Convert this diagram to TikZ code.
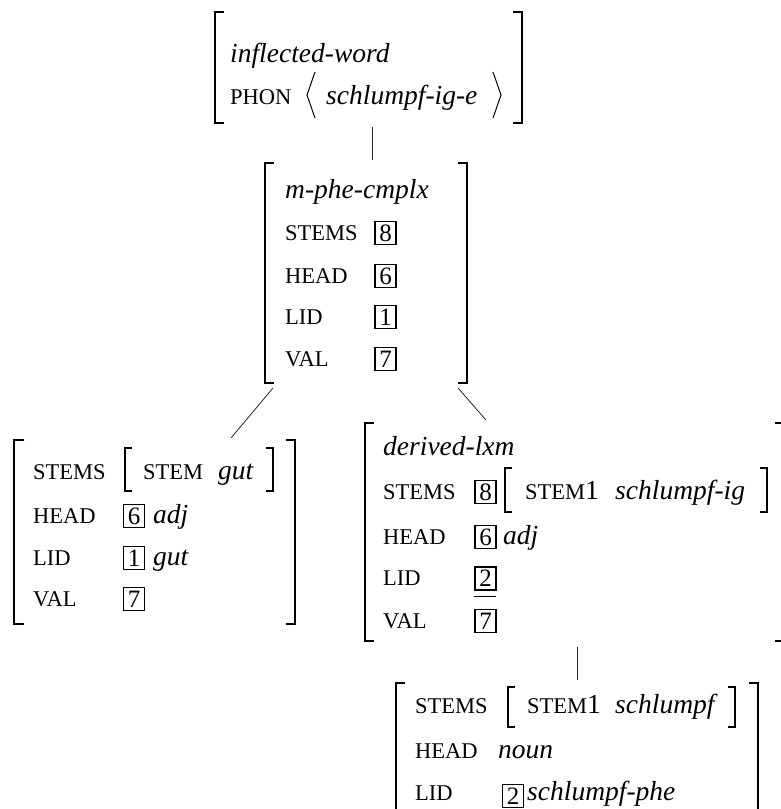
\documentclass[tikz,border=0pt]{standalone}
\usepackage{fontspec}
\setmainfont{Liberation Serif}
\newcommand\mfs{\fontsize{27.5}{31}\selectfont}
\newcommand\mtfs{\fontsize{25}{27}\selectfont}
\newcommand\fsc[1]{{\fontsize{22.5}{26}\selectfont #1}}
\tikzset{
  lbl/.style={anchor=base west, inner sep=0pt, font=\mfs},
  tagbox/.style={draw, line width=1.1pt, inner sep=0pt, minimum width=21pt, minimum height=23pt, font=\mtfs},
  brk/.style={line width=2pt},
  ibrk/.style={line width=1.6pt},
  conn/.style={line width=0.8pt, draw=black!85},
  angl/.style={line width=1pt}
}
\begin{document}
\begin{tikzpicture}[x=1pt,y=-1pt]
\useasboundingbox (0,0) rectangle (781,809);
\clip (0,0) rectangle (781,809);
% ---------- top AVM ----------
\draw[brk] (224,12) -- (215,12) -- (215,123) -- (224,123);
\draw[brk] (513,12) -- (522,12) -- (522,123) -- (513,123);
\node[lbl] (iw) at (230,62) {\itshape inflected-word};
\node[lbl] (phon) at (230,104) {\fsc{PHON}};
\draw[angl] (315,72) -- (307,95) -- (315,118);
\node[lbl] (phv) at (326,104) {\itshape schlumpf-ig-e};
\draw[angl] (493,72) -- (501,95) -- (493,118);
% ---------- middle AVM ----------
\draw[brk] (274,163) -- (265,163) -- (265,383) -- (274,383);
\draw[brk] (458,163) -- (467,163) -- (467,383) -- (458,383);
\node[lbl] (mty) at (285,198) {\itshape m-phe-cmplx};
\node[lbl] (mst) at (285,240) {\fsc{STEMS}};
\node[lbl] (mhd) at (285,283) {\fsc{HEAD}};
\node[lbl] (mld) at (285,324) {\fsc{LID}};
\node[lbl] (mvl) at (285,366) {\fsc{VAL}};
\node[tagbox] (mt8) at (385.5,233) {8};
\node[tagbox] (mt6) at (385.5,276) {6};
\node[tagbox] (mt1) at (385.5,317) {1};
\node[tagbox] (mt7) at (385.5,359) {7};
% ---------- left AVM ----------
\draw[brk] (24,440) -- (14,440) -- (14,624) -- (24,624);
\draw[brk] (286,440) -- (295,440) -- (295,624) -- (286,624);
\node[lbl] (lst) at (33,479) {\fsc{STEMS}};
\draw[ibrk] (132,448) -- (125,448) -- (125,491) -- (132,491);
\node[lbl] (lstem) at (143,479) {\fsc{STEM}};
\node[lbl] (lgut) at (218,479) {\itshape gut};
\draw[ibrk] (266,448) -- (273,448) -- (273,491) -- (266,491);
\node[lbl] (lhd) at (33,523) {\fsc{HEAD}};
\node[tagbox] (lt6) at (134,516) {6};
\node[lbl] (ladj) at (153,523) {\itshape adj};
\node[lbl] (lld) at (33,565) {\fsc{LID}};
\node[tagbox] (lt1) at (134,558) {1};
\node[lbl] (lgut2) at (153,565) {\itshape gut};
\node[lbl] (lvl) at (33,606) {\fsc{VAL}};
\node[tagbox] (lt7) at (134,599) {7};
% ---------- right AVM ----------
\draw[brk] (374,423) -- (365,423) -- (365,641) -- (374,641);
\draw[brk] (775,423) -- (784,423) -- (784,641) -- (775,641);
\node[lbl] (rty) at (383,455) {\itshape derived-lxm};
\node[lbl] (rst) at (383,499) {\fsc{STEMS}};
\node[tagbox] (rt8) at (485.5,492) {8};
\draw[ibrk] (512,468) -- (505,468) -- (505,512) -- (512,512);
\node[lbl] (rstem) at (525,499) {\fsc{STEM}1};
\node[lbl] (rsig) at (615,499) {\itshape schlumpf-ig};
\draw[ibrk] (760,468) -- (767,468) -- (767,512) -- (760,512);
\node[lbl] (rhd) at (383,544) {\fsc{HEAD}};
\node[tagbox] (rt6) at (485.5,537) {6};
\node[lbl] (radj) at (503,544) {\itshape adj};
\node[lbl] (rld) at (383,585) {\fsc{LID}};
\node[tagbox] (rt2) at (485.5,578.5) {2};
\draw[line width=1.6pt] (rt2.south west) ++(0,6) -- ++(21.5,0);
\node[lbl] (rvl) at (383,628) {\fsc{VAL}};
\node[tagbox] (rt7) at (485.5,621) {7};
% ---------- bottom AVM ----------
\draw[brk] (405,683) -- (396,683) -- (396,830);
\draw[brk] (749,683) -- (758,683) -- (758,830);
\node[lbl] (bst) at (415,713) {\fsc{STEMS}};
\draw[ibrk] (515,687) -- (508,687) -- (508,727) -- (515,727);
\node[lbl] (bstem) at (527,713) {\fsc{STEM}1};
\node[lbl] (bsch) at (615,713) {\itshape schlumpf};
\draw[ibrk] (728,687) -- (735,687) -- (735,727) -- (728,727);
\node[lbl] (bhd) at (415,758) {\fsc{HEAD}};
\node[lbl] (bnoun) at (498,758) {\itshape noun};
\node[lbl] (bld) at (415,800) {\fsc{LID}};
\node[tagbox] (bt2) at (513,796) {2};
\node[lbl] (bsp) at (527,800) {\itshape schlumpf-phe};
% ---------- connectors ----------
\coordinate (topD) at (372,127);
\coordinate (midU) at (372,160);
\coordinate (midDL) at (273,388);
\coordinate (leftU) at (231,438);
\coordinate (midDR) at (458,388);
\coordinate (rightU) at (486,420);
\coordinate (rightD) at (577,647);
\coordinate (botU) at (577,680);
\draw[conn] (topD) -- (midU);
\draw[conn] (midDL) -- (leftU);
\draw[conn] (midDR) -- (rightU);
\draw[conn] (rightD) -- (botU);
\end{tikzpicture}
\end{document}
